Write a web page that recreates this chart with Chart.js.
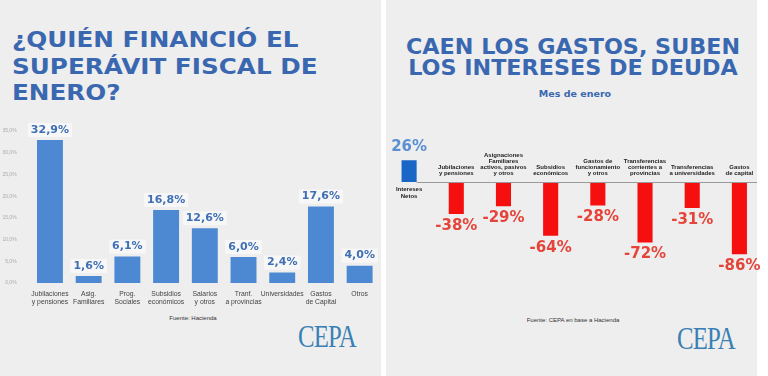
<!DOCTYPE html>
<html>
<head>
<meta charset="utf-8">
<script src="https://cdn.jsdelivr.net/npm/chart.js@4.4.1/dist/chart.umd.min.js"></script>
<style>
  html, body { margin: 0; padding: 0; }
  body { width: 768px; height: 376px; position: relative; overflow: hidden; background: #ffffff; font-family: "DejaVu Sans", Arial, sans-serif; }
  .panel { position: absolute; top: 0; height: 376px; background: #eeeeee; }
  .title { position: absolute; color: #3a68b0; font-family: "DejaVu Sans", sans-serif; font-weight: bold; white-space: nowrap; }
  .src { position: absolute; font-family: "Liberation Sans", Arial, sans-serif; font-size: 6px; color: #333; white-space: nowrap; }
  .logo { position: absolute; font-family: "Liberation Serif", serif; color: #3a80b4; font-size: 31px; letter-spacing: -1px; transform: scaleX(0.8); transform-origin: left top; }
  canvas { position: absolute; }
</style>
</head>
<body>
<div class="panel" style="left:0;width:381px"></div>
<div class="panel" style="left:386px;width:371px"></div>

<div class="title" style="left:12px;top:27px;font-size:21px;line-height:26.7px;transform:scaleX(1.175);transform-origin:left top">¿QUIÉN FINANCIÓ EL<br>SUPERÁVIT FISCAL DE<br>ENERO?</div>
<div class="title" style="left:573px;top:37px;font-size:21px;line-height:20.5px;text-align:center;transform:translateX(-50%) scaleX(1.06)">CAEN LOS GASTOS, SUBEN<br>LOS INTERESES DE DEUDA</div>
<div class="title" style="left:575px;top:88px;font-size:9.5px;transform:translateX(-50%)">Mes de enero</div>

<div style="position:absolute;left:0;top:100px;width:382px;height:210px"><canvas id="left"></canvas></div>
<div style="position:absolute;left:384px;top:100px;width:384px;height:200px"><canvas id="right"></canvas></div>

<div class="src" style="left:193px;top:315px;transform:translateX(-50%)">Fuente: Hacienda</div>
<div class="src" style="left:573px;top:317px;transform:translateX(-50%)">Fuente: CEPA en base a Hacienda</div>
<div class="logo" style="left:298px;top:319px">CEPA</div>
<div class="logo" style="left:677px;top:321px">CEPA</div>

<script>
// Panel izquierdo: quién financió el superávit
const leftCategories = [
  ["Jubilaciones", "y pensiones"], ["Asig.", "Familiares"], ["Prog.", "Sociales"],
  ["Subsidios", "económicos"], ["Salarios", "y otros"], ["Tranf.", "a provincias"],
  ["Universidades"], ["Gastos", "de Capital"], ["Otros"]
];
const leftValues = [32.9, 1.6, 6.1, 16.8, 12.6, 6.0, 2.4, 17.6, 4.0];
const leftTicks = [0, 5, 10, 15, 20, 25, 30, 35];

// Panel derecho: variación interanual, mes de enero
const rightCategories = [
  ["Intereses", "Netos"], ["Jubilaciones", "y pensiones"],
  ["Asignaciones", "Familiares", "activos, pasivos", "y otros"],
  ["Subsidios", "económicos"], ["Gastos de", "funcionamiento", "y otros"],
  ["Transferencias", "corrientes a", "provincias"],
  ["Transferencias", "a universidades"], ["Gastos", "de capital"]
];
const rightValues = [26, -38, -29, -64, -28, -72, -31, -86];

const fmtComma = v => v.toFixed(1).replace(".", ",") + "%";

const leftLabels = {
  id: "leftLabels",
  afterDatasetsDraw(chart) {
    const ctx = chart.ctx;
    const meta = chart.getDatasetMeta(0);
    ctx.save();
    ctx.font = "bold 11px 'DejaVu Sans', sans-serif";
    ctx.textAlign = "center";
    ctx.textBaseline = "middle";
    meta.data.forEach((el, i) => {
      const txt = fmtComma(leftValues[i]);
      const w = ctx.measureText(txt).width + 6;
      const y = el.y - 10;
      ctx.fillStyle = "rgba(255,255,255,0.55)";
      ctx.fillRect(el.x - w / 2, y - 7, w, 14);
      ctx.fillStyle = "#3f6fb4";
      ctx.fillText(txt, el.x, y);
    });
    ctx.restore();
  }
};

new Chart(document.getElementById("left"), {
  type: "bar",
  data: {
    labels: leftCategories,
    datasets: [{
      data: leftValues,
      backgroundColor: "#4d89d3",
      barPercentage: 0.67,
      categoryPercentage: 1
    }]
  },
  options: {
    responsive: true,
    maintainAspectRatio: false,
    animation: false,
    layout: { padding: { top: 31, right: 3, left: 0, bottom: 0 } },
    plugins: { legend: { display: false }, tooltip: { enabled: false } },
    scales: {
      x: {
        grid: { display: false },
        border: { display: false },
        afterFit: s => { s.height = 27; },
        ticks: {
          color: "#444",
          font: { size: 6.8, family: "'Liberation Sans', Arial, sans-serif", lineHeight: 1.05 },
          maxRotation: 0, autoSkip: false, padding: 0
        }
      },
      y: {
        min: 0, max: 35,
        afterFit: s => { s.width = 30.6; },
        afterBuildTicks: s => { s.ticks = leftTicks.map(v => ({ value: v })); },
        grid: { display: false },
        border: { display: false },
        ticks: {
          color: "#aaa",
          font: { size: 5, family: "'Liberation Sans', Arial, sans-serif" },
          padding: 6,
          callback: v => fmtComma(v)
        }
      }
    }
  },
  plugins: [leftLabels]
});

const rightLabels = {
  id: "rightLabels",
  afterDatasetsDraw(chart) {
    const ctx = chart.ctx;
    const meta = chart.getDatasetMeta(0);
    const y0 = chart.scales.y.getPixelForValue(0);
    ctx.save();
    // línea del cero
    const first = meta.data[0];
    ctx.strokeStyle = "#9a9a9a";
    ctx.lineWidth = 1;
    ctx.beginPath();
    ctx.moveTo(first.x + first.width / 2, y0 + 0.5);
    ctx.lineTo(chart.chartArea.right - 6, y0 + 0.5);
    ctx.stroke();

    ctx.textAlign = "center";
    meta.data.forEach((el, i) => {
      const v = rightValues[i];
      const lines = rightCategories[i];
      ctx.textBaseline = "middle";
      ctx.font = "bold 15px 'DejaVu Sans', sans-serif";
      if (v >= 0) {
        ctx.fillStyle = "#5a8fd2";
        ctx.fillText(v + "%", el.x, el.y - 13);
      } else {
        ctx.fillStyle = "#e5443a";
        ctx.fillText(v + "%", el.x, el.y + 12);
      }
      ctx.font = "bold 6px 'Liberation Sans', Arial, sans-serif";
      ctx.fillStyle = "#222";
      if (v >= 0) {
        lines.forEach((t, k) => ctx.fillText(t, el.x, y0 + 7 + k * 7));
      } else {
        const n = lines.length;
        lines.forEach((t, k) => ctx.fillText(t, el.x, y0 - 9 - (n - 1 - k) * 5.8));
      }
    });
    ctx.restore();
  }
};

new Chart(document.getElementById("right"), {
  type: "bar",
  data: {
    labels: rightCategories.map(l => l.join(" ")),
    datasets: [{
      data: rightValues,
      backgroundColor: rightValues.map(v => v >= 0 ? "#1a66c6" : "#f50f0f"),
      barPercentage: 0.32,
      categoryPercentage: 1
    }]
  },
  options: {
    responsive: true,
    maintainAspectRatio: false,
    animation: false,
    layout: { padding: { top: 56.8, right: 5, left: 1.5, bottom: 34 } },
    plugins: { legend: { display: false }, tooltip: { enabled: false } },
    scales: {
      x: { display: false },
      y: { display: false, min: -100, max: 30 }
    }
  },
  plugins: [rightLabels]
});
</script>
</body>
</html>
